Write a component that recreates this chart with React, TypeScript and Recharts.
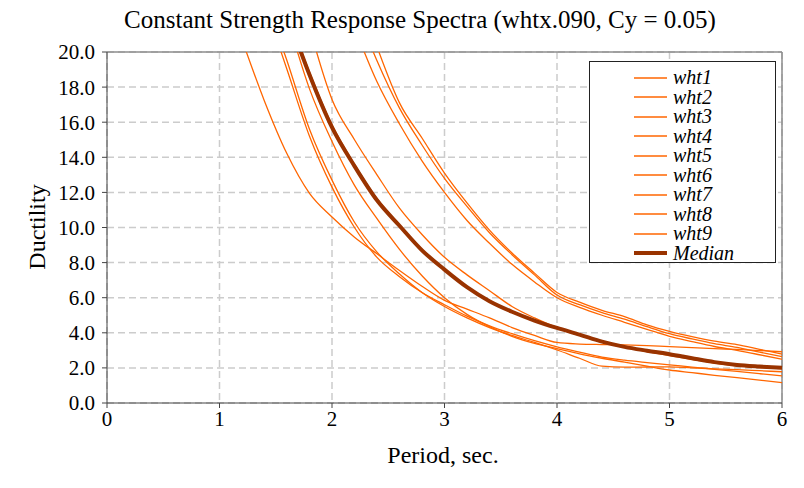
import React from 'react';
import { LineChart, Line, XAxis, YAxis, CartesianGrid, Legend, ReferenceLine } from 'recharts';

const FONT = "'Liberation Serif', 'Times New Roman', serif";

// period grid (sec.)
const PERIOD = [1.2, 1.4, 1.6, 1.8, 2.0, 2.2, 2.4, 2.6, 2.8, 3.0, 3.2, 3.4, 3.6, 3.8, 4.0, 4.2, 4.4, 4.6, 4.8, 5.0, 5.2, 5.4, 5.6, 5.8, 6.0];

// ductility per record (values above 20 are clipped by the axis)
const WHT1 = [20.7, 17.2, 14.2, 11.95, 10.6, 9.45, 8.5, 7.55, 6.65, 5.85, 5.35, 4.85, 4.3, 3.85, 3.45, 3.36, 3.33, 3.31, 3.27, 3.21, 3.16, 3.1, 3.05, 2.99, 2.92];
const WHT2 = [null, 22.8, 19.0, 15.2, 12.3, 10.0, 8.3, 7.2, 6.3, 5.6, 4.95, 4.4, 3.95, 3.55, 3.2, 2.9, 2.62, 2.44, 2.3, 2.17, 2.05, 1.92, 1.8, 1.67, 1.54];
const WHT3 = [null, 23.2, 19.5, 15.6, 12.7, 10.3, 8.6, 7.35, 6.3, 5.5, 4.85, 4.3, 3.85, 3.45, 3.02, 2.55, 2.1, 2.04, 2.05, 2.06, 2.0, 1.95, 1.9, 1.84, 1.78];
const WHT4 = [null, null, 22.0, 17.9, 14.9, 12.4, 10.5, 8.75, 7.25, 6.0, 5.05, 4.35, 3.8, 3.4, 3.1, 2.8, 2.55, 2.33, 2.1, 1.88, 1.73, 1.58, 1.44, 1.3, 1.16];
const WHT5 = [null, null, null, 21.4, 17.3, 15.0, 13.0, 11.1, 9.6, 8.3, 7.3, 6.4, 5.5, 4.85, 4.3, 3.88, 3.48, 3.18, 2.93, 2.7, 2.48, 2.28, 2.12, 2.04, 1.98];
const WHT6 = [null, null, null, null, null, 21.4, 18.3, 15.9, 13.8, 12.0, 10.4, 9.1, 7.9, 6.9, 6.0, 5.45, 5.0, 4.6, 4.2, 3.8, 3.5, 3.22, 3.0, 2.75, 2.49];
const WHT7 = [null, null, null, null, null, 22.7, 19.5, 16.8, 14.7, 12.8, 11.2, 9.7, 8.45, 7.3, 6.15, 5.6, 5.15, 4.78, 4.35, 3.95, 3.65, 3.38, 3.17, 2.9, 2.64];
const WHT8 = [null, null, null, null, null, null, 20.3, 17.1, 15.1, 13.1, 11.4, 9.85, 8.55, 7.4, 6.3, 5.75, 5.28, 4.92, 4.45, 4.08, 3.78, 3.52, 3.33, 3.06, 2.79];
const WHT9 = [null, null, 22.4, 18.85, 15.85, 13.6, 11.65, 10.15, 8.75, 7.62, 6.62, 5.82, 5.22, 4.72, 4.28, 3.9, 3.5, 3.2, 2.97, 2.76, 2.52, 2.3, 2.13, 2.02, 1.96];
const MEDIAN = [null, null, 22.2, 18.7, 15.7, 13.5, 11.55, 10.1, 8.7, 7.6, 6.6, 5.8, 5.2, 4.7, 4.28, 3.9, 3.5, 3.2, 2.98, 2.78, 2.55, 2.33, 2.17, 2.08, 2.01];

const X_TICKS = [0, 1, 2, 3, 4, 5, 6];
const Y_TICKS = [0, 2, 4, 6, 8, 10, 12, 14, 16, 18, 20];

const RECORDS: [string, (number | null)[]][] = [
  ['wht1', WHT1], ['wht2', WHT2], ['wht3', WHT3], ['wht4', WHT4], ['wht5', WHT5],
  ['wht6', WHT6], ['wht7', WHT7], ['wht8', WHT8], ['wht9', WHT9],
];

const ORANGE = '#FF6600';
const MEDIAN_COLOR = '#993300';
const LEGEND_ORDER = [...RECORDS.map(([name]) => name), 'Median'];

const data = PERIOD.map((t, i) => {
  const row: any = { period: t, Median: MEDIAN[i] };
  RECORDS.forEach(([name, vals]) => { row[name] = vals[i]; });
  return row;
});

const LegendBox = ({ payload }: any) => {
  const items = LEGEND_ORDER.map((name) => {
    const hit = (payload || []).find((p: any) => p.value === name);
    return { name, color: hit ? hit.color : (name === 'Median' ? MEDIAN_COLOR : ORANGE) };
  });
  return (
    <div style={{ border: '1px solid #222', background: '#fff', boxSizing: 'border-box', width: 187, height: 202, paddingTop: 6 }}>
      {items.map(({ name, color }) => {
        const thick = name === 'Median';
        return (
          <div key={name} style={{ display: 'flex', alignItems: 'center', height: 19.5 }}>
            <svg width={77} height={10} style={{ display: 'block' }}>
              <line x1={44} x2={77} y1={5} y2={5} stroke={color} strokeWidth={thick ? 4 : 1.5} />
            </svg>
            <span style={{ display: 'inline-block', height: 19, marginLeft: 6, fontFamily: FONT, fontStyle: 'italic', fontSize: 20, lineHeight: '19px', color: '#000' }}>
              {name}
            </span>
          </div>
        );
      })}
    </div>
  );
};

export default function App() {
  return (
    <div style={{ position: 'absolute', left: 0, top: 0, width: 804, height: 488, background: '#fff', fontFamily: FONT }}>
      <div style={{ position: 'absolute', left: 420, top: 7, transform: 'translateX(-50%)', whiteSpace: 'nowrap', fontSize: 25, lineHeight: 1, color: '#000' }}>
        Constant Strength Response Spectra (whtx.090, Cy = 0.05)
      </div>
      <LineChart width={804} height={488} data={data} margin={{ top: 52, right: 22, bottom: 55, left: 27 }}>
        <CartesianGrid stroke="#cccccc" strokeWidth={1.5} strokeDasharray="7 4" />
        <XAxis
          type="number"
          dataKey="period"
          domain={[0, 6]}
          ticks={X_TICKS}
          height={30}
          tickSize={5}
          tickMargin={3}
          stroke="#444"
          tick={{ fontSize: 21, fill: '#000', fontFamily: FONT }}
        />
        <YAxis
          type="number"
          domain={[0, 20]}
          ticks={Y_TICKS}
          allowDataOverflow
          width={80}
          tickSize={5}
          tickMargin={7}
          stroke="#444"
          tickFormatter={(v: number) => v.toFixed(1)}
          tick={{ fontSize: 21, fill: '#000', fontFamily: FONT }}
        />
        <ReferenceLine y={20} stroke="#8c8c8c" strokeWidth={1.5} />
        <ReferenceLine x={6} stroke="#8c8c8c" strokeWidth={1.5} />
        {RECORDS.map(([name]) => (
          <Line
            key={name}
            type="monotone"
            dataKey={name}
            name={name}
            stroke={ORANGE}
            strokeWidth={1.3}
            dot={false}
            isAnimationActive={false}
          />
        ))}
        <Line type="monotone" dataKey="Median" name="Median" stroke={MEDIAN_COLOR} strokeWidth={4} dot={false} isAnimationActive={false} />
        <Legend
          layout="vertical"
          align="center"
          verticalAlign="middle"
          content={<LegendBox />}
          wrapperStyle={{ left: 589, top: 61, width: 187, height: 202 }}
        />
      </LineChart>
      <div style={{ position: 'absolute', left: 443, top: 443, transform: 'translateX(-50%)', whiteSpace: 'nowrap', fontSize: 24, lineHeight: 1, color: '#000' }}>
        Period, sec.
      </div>
      <div style={{ position: 'absolute', left: 37, top: 227, transform: 'translate(-50%, -50%) rotate(-90deg)', whiteSpace: 'nowrap', fontSize: 24, lineHeight: 1, color: '#000' }}>
        Ductility
      </div>
    </div>
  );
}
